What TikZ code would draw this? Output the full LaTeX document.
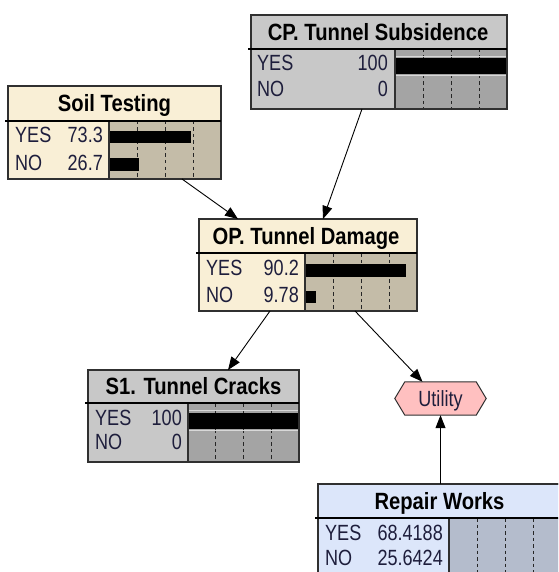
\documentclass[tikz,border=0pt]{standalone}
\usepackage{fontspec}
\newfontfamily\nf[FakeStretch=0.86]{Liberation Sans}
\newfontfamily\rf[FakeStretch=0.82]{Liberation Sans}
\usetikzlibrary{arrows.meta,calc}
\definecolor{cream}{HTML}{F9EFD6}
\definecolor{tanbar}{HTML}{C4BCA8}
\definecolor{obsfill}{HTML}{C8C8C8}
\definecolor{obsbar}{HTML}{A4A4A4}
\definecolor{bluefill}{HTML}{DCE6FA}
\definecolor{bluebar}{HTML}{B4BCCC}
\definecolor{utilfill}{HTML}{FFC0C0}
\definecolor{edgec}{HTML}{303030}
\definecolor{rowc}{HTML}{1E1E3C}
\definecolor{lightln}{HTML}{D8D8D8}
\newcommand\netbox[9]{%
  \node[draw=edgec, line width=1.2pt, fill=#8, anchor=north west, inner sep=0pt, outer sep=0pt,
        minimum width={(#4-#2)*1pt}, minimum height={(#5-#3)*1pt}] (#1) at (#2,#3) {};
  \fill[#9] (#7,#6) rectangle (#4,#5);
  \foreach \k in {1,2,3} \draw[tickln] ({#7+(#4-#7)*\k/4},#6) -- ({#7+(#4-#7)*\k/4},#5);
}
\newcommand\netframe[5]{%
  \draw[edgec, line width=1.2pt] (#1.north west) rectangle (#1.south east);
  \draw[edgec, line width=1.2pt] (#4,#3) -- (#4,#5);
  \draw[black, line width=2pt] ({#2-3},#3) -- (#1.east |- 0,#3);
}
\begin{document}
\begin{tikzpicture}[x=1pt,y=-1pt,
  tickln/.style={draw=black!85, line width=0.9pt, dash pattern=on 3.5pt off 3pt},
  ttl/.style={font=\nf\bfseries\fontsize{23.5}{23.5}\selectfont, text=black, inner sep=0pt, text height=16.8pt, text depth=0pt},
  rowt/.style={font=\rf\fontsize{22}{22}\selectfont, text=rowc, inner sep=0pt, text height=15.8pt, text depth=0pt},
  conn/.style={draw=black, line width=0.9pt, -{Triangle[length=13pt,width=10pt]}}]
\useasboundingbox (0,0) rectangle (558,572);
\clip (0,0) rectangle (558,572);

% Soil Testing
\netbox{soil}{8}{86}{221}{179}{121}{109}{cream}{tanbar}
\fill[black] (109,131.5) rectangle (191,143.5);
\fill[black] (109,158.5) rectangle (139,170.5);
\netframe{soil}{8}{121}{109}{179}
\node[ttl] (soilt) at (114.5,103.5) {Soil Testing};
\node[rowt, anchor=west] (soily) at (15,135) {YES};
\node[rowt, anchor=east] (soilyv) at (103,135) {73.3};
\node[rowt, anchor=west] (soiln) at (15,163) {NO};
\node[rowt, anchor=east] (soilnv) at (103,163) {26.7};

% CP. Tunnel Subsidence
\netbox{cp}{251}{15}{507}{109}{49}{395}{obsfill}{obsbar}
\draw[lightln, line width=1pt] (395,56.5) -- (507,56.5);
\draw[lightln, line width=1pt] (395,76) -- (507,76);
\fill[black] (395,58.5) rectangle (507,74.5);
\netframe{cp}{251}{49}{395}{109}
\node[ttl] (cpt) at (378,32) {CP. Tunnel Subsidence};
\node[rowt, anchor=west] (cpy) at (257,63) {YES};
\node[rowt, anchor=east] (cpyv) at (388,63) {100};
\node[rowt, anchor=west] (cpn) at (257,89) {NO};
\node[rowt, anchor=east] (cpnv) at (388,89) {0};

% OP. Tunnel Damage
\netbox{op}{199}{219}{417}{311}{253}{305}{cream}{tanbar}
\fill[black] (305,263.5) rectangle (406,276.5);
\fill[black] (305,290.5) rectangle (316,303);
\netframe{op}{199}{253}{305}{311}
\node[ttl] (opt) at (306,236) {OP. Tunnel Damage};
\node[rowt, anchor=west] (opy) at (206,268) {YES};
\node[rowt, anchor=east] (opyv) at (299,268) {90.2};
\node[rowt, anchor=west] (opn) at (206,295) {NO};
\node[rowt, anchor=east] (opnv) at (299,295) {9.78};

% S1. Tunnel Cracks
\netbox{s1}{88}{370}{299}{462}{403}{188}{obsfill}{obsbar}
\draw[lightln, line width=1pt] (188,410.5) -- (299,410.5);
\draw[lightln, line width=1pt] (188,430) -- (299,430);
\fill[black] (188,412.5) rectangle (299,428.5);
\netframe{s1}{88}{403}{188}{462}
\node[ttl] (s1t) at (193.5,386.5) {S1. Tunnel Cracks};
\node[rowt, anchor=west] (s1y) at (95,418) {YES};
\node[rowt, anchor=east] (s1yv) at (182,418) {100};
\node[rowt, anchor=west] (s1n) at (95,442) {NO};
\node[rowt, anchor=east] (s1nv) at (182,442) {0};

% Repair Works
\netbox{rw}{318}{484}{561}{595}{518}{449}{bluefill}{bluebar}
\netframe{rw}{318}{518}{449}{595}
\node[ttl] (rwt) at (439.5,501.5) {Repair Works};
\node[rowt, anchor=west] (rwy) at (325,533) {YES};
\node[rowt, anchor=east] (rwyv) at (443,533) {68.4188};
\node[rowt, anchor=west] (rwn) at (325,558) {NO};
\node[rowt, anchor=east] (rwnv) at (443,558) {25.6424};

% Utility
\node[inner sep=0pt, minimum width=91pt, minimum height=33pt] (util) at (440.5,398.5) {};
\draw[edgec, line width=1pt, fill=utilfill] (util.west) -- ([xshift=10pt]util.north west) -- ([xshift=-10pt]util.north east)
  -- (util.east) -- ([xshift=-10pt]util.south east) -- ([xshift=10pt]util.south west) -- cycle;
\node[rowt] (utilt) at (util.center) {Utility};

% connectors
\draw[conn] ([xshift=67.5pt]soil.south) -- ([xshift=-70pt]op.north);
\draw[conn] ([xshift=-17pt]cp.south) -- ([xshift=15pt]op.north);
\draw[conn] ([xshift=-38pt]op.south) -- ([xshift=34.5pt]s1.north);
\draw[conn] ([xshift=47pt]op.south) -- ([xshift=-18pt]util.north);
\draw[conn] ([xshift=1pt]rw.north) -- (util.south);
\end{tikzpicture}
\end{document}
